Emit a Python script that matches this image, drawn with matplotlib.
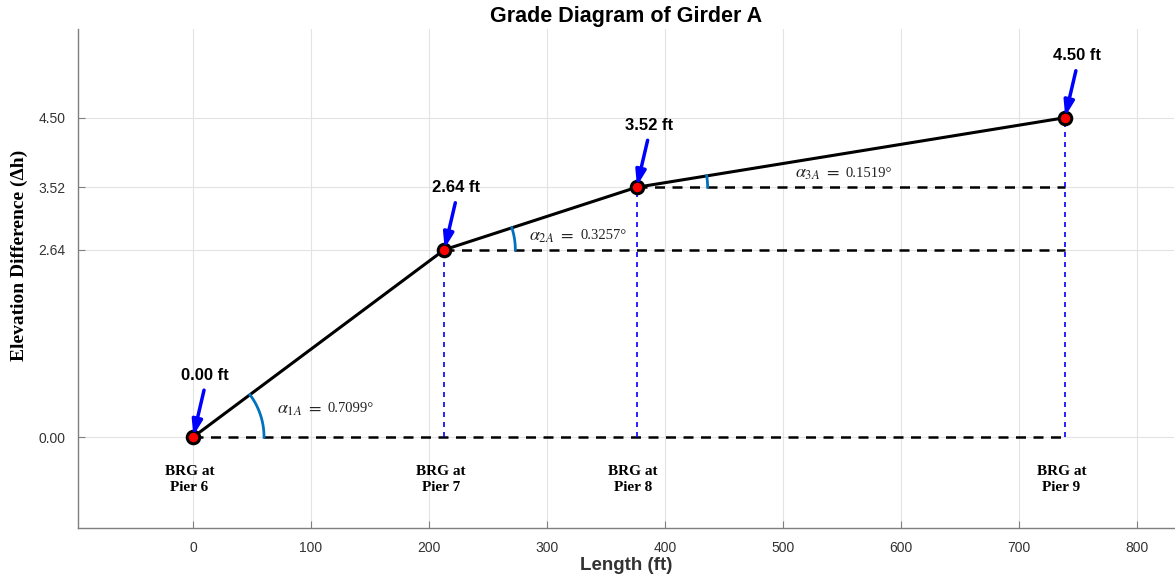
import numpy as np
import matplotlib
matplotlib.use("Agg")
import matplotlib.pyplot as plt

# Data
stations = [0.0, 213.0, 376.0, 739.0]
elevations = [0.00, 2.64, 3.52, 4.50]
value_labels = ["0.00 ft", "2.64 ft", "3.52 ft", "4.50 ft"]
pier_labels = ["BRG at\nPier 6", "BRG at\nPier 7", "BRG at\nPier 8", "BRG at\nPier 9"]
angle_names = ["1A", "2A", "3A"]
angle_values = ["0.7099°", "0.3257°", "0.1519°"]
x_ticks = [0, 100, 200, 300, 400, 500, 600, 700, 800]
y_ticks = [0.00, 2.64, 3.52, 4.50]

plt.rcParams["mathtext.fontset"] = "stix"

W, H, DPI = 1175, 580, 100
fig = plt.figure(figsize=(W / DPI, H / DPI), dpi=DPI)
ax = fig.add_axes([78 / W, 52 / H, (1174 - 78) / W, (528 - 29) / H])
xlim = (-97.5, 831.5)
ylim = (-1.28, 5.75)
ax.set_xlim(*xlim)
ax.set_ylim(*ylim)

# px per data unit
sx = (1174 - 78) / (xlim[1] - xlim[0])
sy = (528 - 29) / (ylim[1] - ylim[0])

ax.set_xticks(x_ticks)
ax.set_yticks(y_ticks)
ax.set_yticklabels([f"{v:.2f}" for v in y_ticks])
ax.grid(True, color="#e3e3e3", linewidth=0.8)
ax.set_axisbelow(True)
for s in ["top", "right"]:
    ax.spines[s].set_visible(False)
for s in ["left", "bottom"]:
    ax.spines[s].set_color("#7f7f7f")
    ax.spines[s].set_linewidth(1.0)
ax.tick_params(direction="in", length=5, color="#7f7f7f", labelcolor="#333333",
               labelsize=10, pad=9)
for lab in ax.get_xticklabels() + ax.get_yticklabels():
    lab.set_family("Liberation Sans")

# Horizontal dashed reference lines
end_x = stations[-1]
for xs, ys in zip(stations[:-1], elevations[:-1]):
    ax.plot([xs, end_x], [ys, ys], color="black", linestyle=(0, (4, 3)), linewidth=1.8, zorder=2)
# Vertical blue dashed lines
for xs, ys in zip(stations[1:], elevations[1:]):
    ax.plot([xs, xs], [0, ys], color="blue", linestyle=(0, (3, 3)), linewidth=1.2, zorder=2)

# Main grade line
ax.plot(stations, elevations, color="black", linewidth=2.2, zorder=3)
ax.plot(stations, elevations, linestyle="none", marker="o", markersize=9,
        markerfacecolor="red", markeredgecolor="black", markeredgewidth=2.2, zorder=4)

# Angle arcs and labels
R = 71.0  # px
label_pos = [(71, 0.40), (285, 2.84), (510, 3.72)]
for i in range(3):
    x0, y0 = stations[i], elevations[i]
    dx = (stations[i + 1] - x0) * sx
    dy = (elevations[i + 1] - y0) * sy
    th = np.arctan2(dy, dx)
    t = np.linspace(0, th, 50)
    ax.plot(x0 + R * np.cos(t) / sx, y0 + R * np.sin(t) / sy, color="#0072BD", linewidth=2, zorder=3)
    lx, ly = label_pos[i]
    ax.text(lx, ly, rf"$\alpha_{{{angle_names[i]}}}\ =$", fontsize=13, ha="left", va="center",
            color="#222222")
    ax.text(lx + 51 / sx, ly, angle_values[i], fontsize=10.5, ha="left", va="center",
            family="Liberation Serif", color="#222222")

# Value callouts with blue arrows
for xs, ys, lab in zip(stations, elevations, value_labels):
    tx, ty = xs + 12 / sx, ys + 62 / sy
    ax.text(tx, ty, lab, fontsize=12, fontweight="bold", ha="center", va="center",
            family="Liberation Sans")
    ax.annotate("", xy=(xs, ys), xytext=(xs + 11 / sx, ys + 47 / sy),
                arrowprops=dict(arrowstyle="-|>,head_length=0.9,head_width=0.3",
                                color="blue", lw=2.5, shrinkA=0, shrinkB=1), zorder=5)

# Pier labels
for xs, lab in zip(stations, pier_labels):
    ax.text(xs - 3, -0.6, lab, fontsize=11, fontweight="bold", ha="center", va="center",
            family="Liberation Serif", linespacing=1.25)

ax.set_title("Grade Diagram of Girder A", fontsize=15.5, fontweight="bold",
             family="Liberation Sans", color="black", pad=5)
ax.set_xlabel("Length (ft)", fontsize=13.5, fontweight="bold", family="Liberation Sans",
              color="#333333", labelpad=2)
ax.set_ylabel("Elevation Difference (Δh)", fontsize=14, fontweight="bold",
              family="Liberation Serif")
ax.yaxis.set_label_coords(-0.046, 0.547)

fig.savefig("out.png", dpi=DPI)
